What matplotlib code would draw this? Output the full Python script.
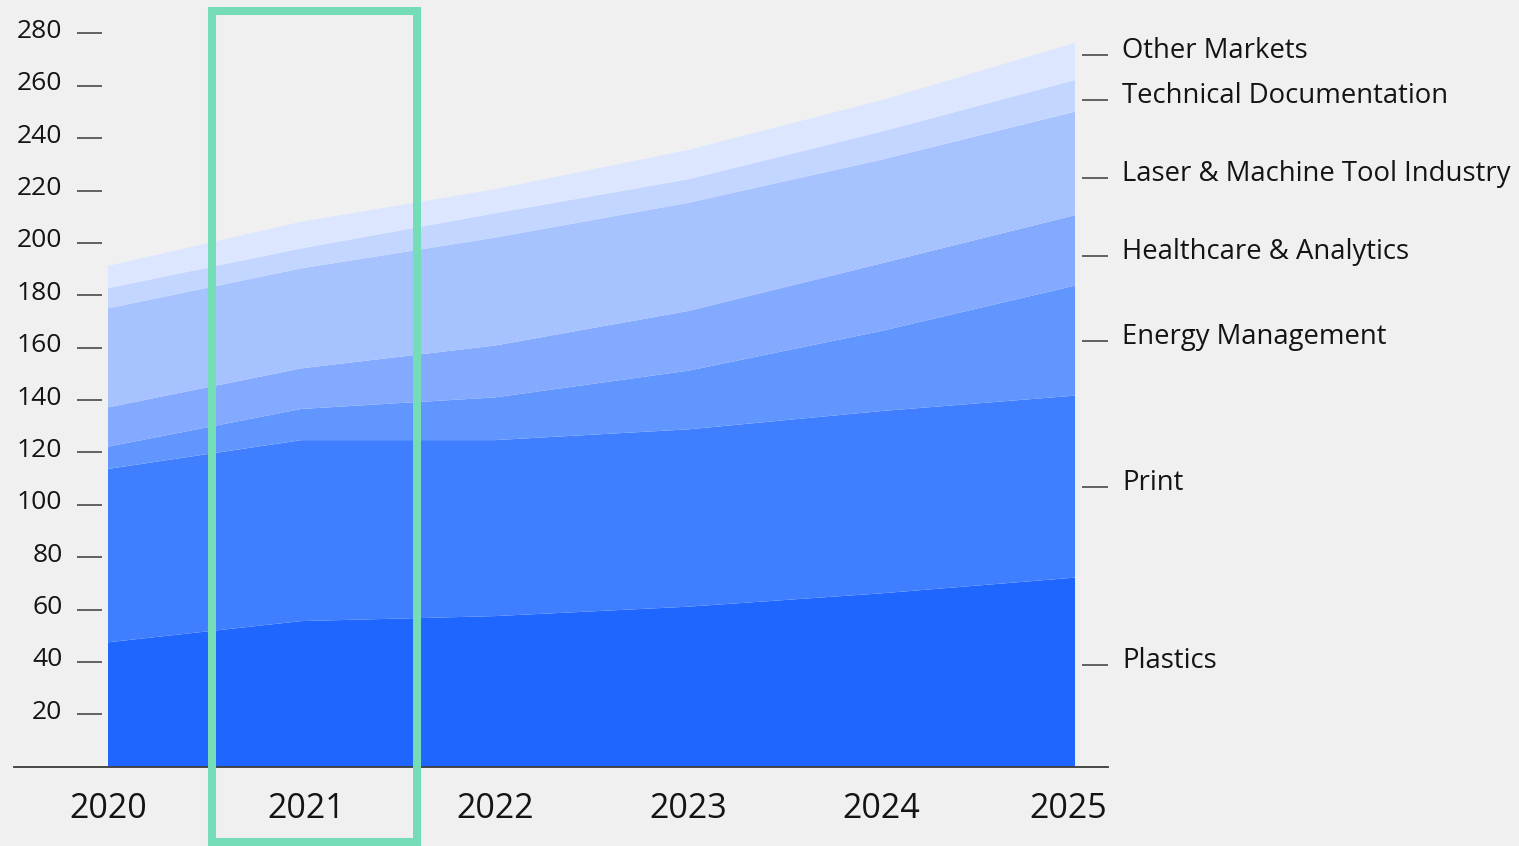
import matplotlib
matplotlib.use("Agg")
import matplotlib.pyplot as plt
import matplotlib.patches as mpatches
from matplotlib.transforms import offset_copy, ScaledTranslation
import numpy as np

# ---- data ----
years = [2020, 2021, 2022, 2023, 2024, 2025]
series_names = ["Plastics", "Print", "Energy Management", "Healthcare & Analytics",
                "Laser & Machine Tool Industry", "Technical Documentation", "Other Markets"]
plastics = [47.5, 55.6, 57.5, 61.1, 66.2, 72.2]
print_ = [66.2, 69.1, 67.2, 67.7, 69.6, 69.5]
energy = [8.5, 11.9, 16.3, 22.4, 30.6, 42.0]
healthcare = [15.0, 15.5, 19.8, 22.8, 25.8, 26.9]
laser = [37.8, 38.2, 41.2, 41.3, 39.6, 39.5]
technical = [7.7, 7.6, 9.3, 9.0, 10.7, 12.1]
other = [8.5, 10.2, 9.2, 11.2, 12.0, 14.2]
y_ticks = [20, 40, 60, 80, 100, 120, 140, 160, 180, 200, 220, 240, 260, 280]
x_labels = ["2020", "2021", "2022", "2023", "2024", "2025"]
highlight_year = 2021

# ---- style ----
colors = ["#1f66ff", "#3f7fff", "#6196ff", "#84aaff", "#a6c3ff", "#c3d6ff", "#dce7ff"]
label_nudge = [2.7, 0.0, 0.0, -2.3, -5.6, -1.7, 2.4]  # label offsets from band mid at last year
xlabel_shift_px = [0, 5, 0, 0, 0, -7]
bg = "#f0f0f0"
txt = "#141414"
font = "Open Sans"

W, H = 1519, 846
fig = plt.figure(figsize=(W / 100, H / 100), dpi=100, facecolor=bg)
px_year = (1075 - 108) / 5
px_unit = 2.619
ax = fig.add_axes([14 / W, (H - 766.7) / H, (1108 - 14) / W, 766.7 / H])
ax.set_facecolor(bg)
ax.set_xlim(2020 - 94 / px_year, 2025 + 33 / px_year)
ax.set_ylim(0, 766.7 / px_unit)

data = [plastics, print_, energy, healthcare, laser, technical, other]
ax.stackplot(years, *data, colors=colors, linewidth=0, zorder=1)

for s in ["top", "right"]:
    ax.spines[s].set_visible(False)
ax.spines["left"].set_position(("data", 2020 - 6 / px_year))
ax.spines["left"].set_color("none")
ax.spines["bottom"].set_color("#3a3a3a")
ax.spines["bottom"].set_linewidth(1.3)
ax.spines["bottom"].set_zorder(3)

ax.set_yticks(y_ticks)
ax.set_yticklabels([str(v) for v in y_ticks], fontsize=19, color=txt, family=font)
ax.tick_params(axis="y", direction="out", length=18, width=1.1, color="#3a3a3a", pad=10.5)
for lab in ax.get_yticklabels():
    lab.set_transform(lab.get_transform() + ScaledTranslation(0, 5 / 100, fig.dpi_scale_trans))

ax.set_xticks(years)
ax.set_xticklabels(x_labels, fontsize=24.5, color=txt, family=font)
ax.tick_params(axis="x", length=0, pad=18.5)
for lab, sh in zip(ax.get_xticklabels(), xlabel_shift_px):
    lab.set_transform(lab.get_transform() + ScaledTranslation(sh / 100, 0, fig.dpi_scale_trans))

# right-hand labels
cum = np.cumsum(np.array(data), axis=0)
last = cum[:, -1]
prev = np.concatenate([[0], last[:-1]])
mids = (last + prev) / 2 + np.array(label_nudge)
x_last = years[-1]
for name, m in zip(series_names, mids):
    ax.plot([x_last + 7 / px_year, x_last + 33 / px_year], [m, m], color="#3a3a3a",
            lw=1.1, clip_on=False, zorder=3, solid_capstyle="butt")
    tr = offset_copy(ax.transData, fig=fig, x=0, y=-3, units="dots")
    ax.text(x_last + 47 / px_year, m, name, transform=tr, fontsize=19.8, color=txt,
            family=font, ha="left", va="baseline", clip_on=False)

# highlight rectangle around 2021
xc = ax.transData.transform((highlight_year, 0))[0]
rect = mpatches.Rectangle(((xc - 89.5) / W, 4 / H), 205 / W, 831 / H,
                          transform=fig.transFigure, fill=False, edgecolor="#74dcb6",
                          linewidth=5.8, zorder=10, clip_on=False)
fig.patches.append(rect)

fig.savefig("out.png", dpi=100, facecolor=bg)
